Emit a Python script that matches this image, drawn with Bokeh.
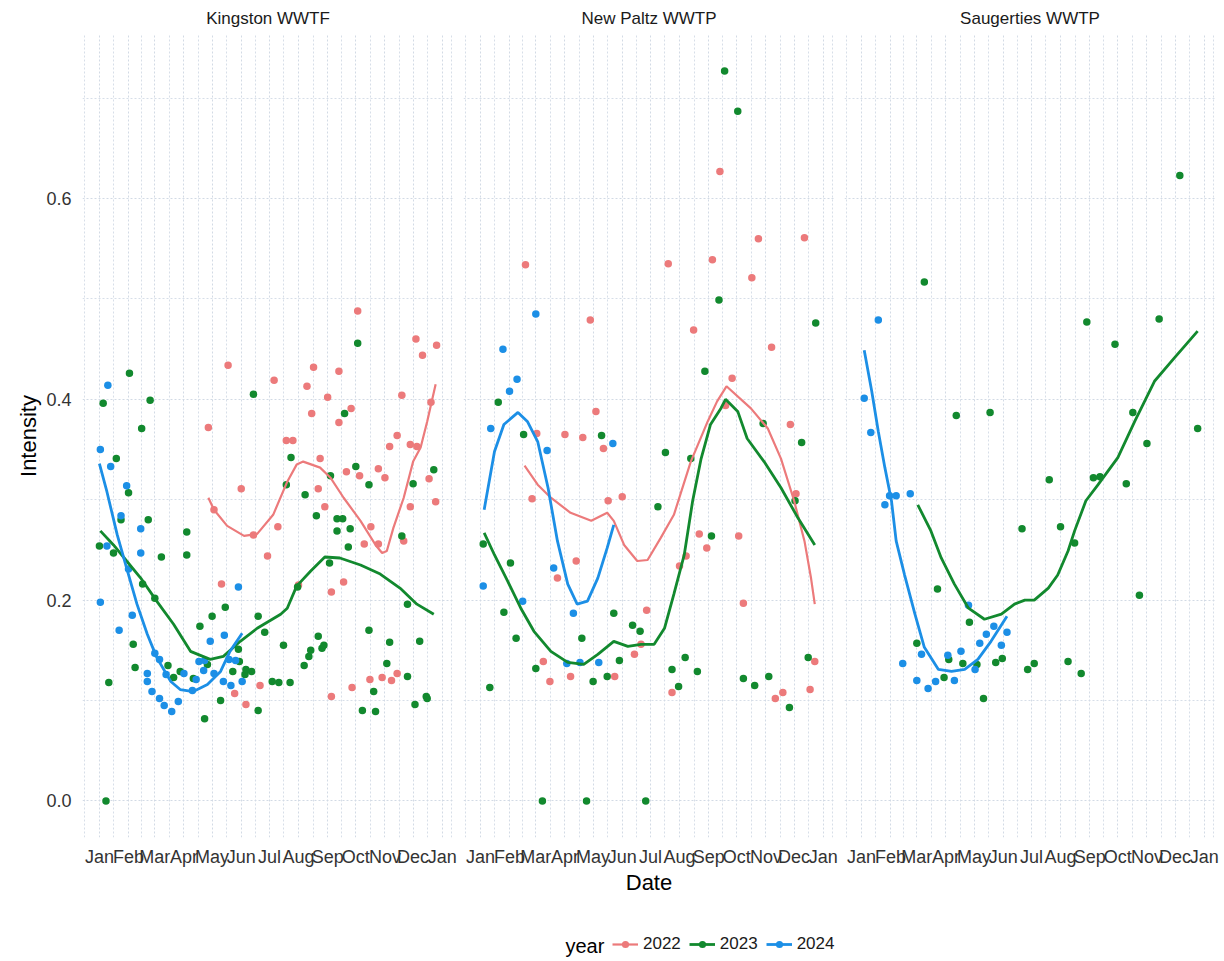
from bokeh.plotting import figure
from bokeh.models import Range1d, FixedTicker, PrintfTickFormatter, Legend, LegendItem, Label
from bokeh.layouts import row, column
from bokeh.embed import file_html
from bokeh.resources import INLINE

FONT = "Liberation Sans"

# ---------------- data (x = days since Jan 1, y = intensity) ----------------
month_starts = [0, 31, 59, 90, 120, 151, 181, 212, 243, 273, 304, 334, 365]
month_labels = ["Jan", "Feb", "Mar", "Apr", "May", "Jun", "Jul", "Aug", "Sep", "Oct", "Nov", "Dec", "Jan"]
y_ticks = [0.0, 0.2, 0.4, 0.6]
y_minor = [0.1, 0.3, 0.5, 0.7]
years = ["2022", "2023", "2024"]
facets = ["Kingston WWTF", "New Paltz WWTP", "Saugerties WWTP"]

# Kingston WWTF
k22_day = [116, 122, 130, 137, 144, 151, 156, 164, 171, 179, 186, 190, 199, 206, 212, 221, 226, 228, 233, 235, 240, 243, 247, 247, 255, 255, 260, 263, 268, 269, 275, 277, 282, 288, 289, 297, 297, 301, 304, 309, 311, 317, 317, 322, 324, 331, 331, 337, 338, 344, 351, 353, 358, 359]
k22_val = [0.372, 0.290, 0.216, 0.434, 0.107, 0.311, 0.096, 0.265, 0.115, 0.244, 0.419, 0.273, 0.359, 0.359, 0.215, 0.413, 0.386, 0.432, 0.311, 0.341, 0.293, 0.402, 0.208, 0.104, 0.428, 0.377, 0.218, 0.328, 0.391, 0.113, 0.488, 0.324, 0.256, 0.121, 0.273, 0.331, 0.256, 0.123, 0.322, 0.353, 0.120, 0.364, 0.127, 0.404, 0.259, 0.355, 0.293, 0.460, 0.353, 0.444, 0.321, 0.397, 0.298, 0.454]
k23_day = [0, 4, 7, 10, 15, 18, 23, 31, 32, 36, 38, 45, 46, 52, 54, 59, 66, 73, 79, 86, 93, 93, 100, 107, 112, 115, 120, 129, 134, 142, 148, 149, 155, 156, 162, 164, 169, 169, 176, 184, 191, 196, 199, 203, 204, 211, 218, 219, 223, 225, 231, 233, 237, 239, 245, 246, 253, 253, 259, 261, 265, 267, 273, 275, 280, 287, 287, 292, 294, 306, 309, 322, 328, 328, 334, 336, 341, 348, 349, 356]
k23_val = [0.254, 0.396, 0.0, 0.118, 0.247, 0.341, 0.280, 0.307, 0.426, 0.156, 0.133, 0.371, 0.216, 0.280, 0.399, 0.202, 0.243, 0.135, 0.123, 0.129, 0.268, 0.245, 0.122, 0.174, 0.082, 0.136, 0.184, 0.100, 0.193, 0.129, 0.151, 0.139, 0.126, 0.131, 0.129, 0.405, 0.184, 0.090, 0.168, 0.119, 0.118, 0.155, 0.315, 0.118, 0.342, 0.213, 0.135, 0.305, 0.144, 0.150, 0.284, 0.164, 0.152, 0.155, 0.237, 0.324, 0.281, 0.269, 0.281, 0.386, 0.253, 0.271, 0.333, 0.456, 0.090, 0.315, 0.170, 0.109, 0.089, 0.137, 0.158, 0.264, 0.196, 0.124, 0.316, 0.096, 0.159, 0.104, 0.102, 0.330]
k24_day = [1, 1, 8, 9, 12, 21, 23, 29, 31, 35, 44, 44, 51, 51, 56, 59, 64, 64, 69, 71, 77, 84, 90, 99, 103, 106, 111, 112, 118, 122, 132, 133, 138, 140, 145, 148, 152]
k24_val = [0.350, 0.198, 0.254, 0.414, 0.333, 0.170, 0.284, 0.314, 0.231, 0.185, 0.271, 0.247, 0.127, 0.119, 0.109, 0.147, 0.141, 0.102, 0.095, 0.126, 0.089, 0.099, 0.127, 0.110, 0.121, 0.139, 0.130, 0.140, 0.159, 0.127, 0.119, 0.165, 0.141, 0.115, 0.140, 0.213, 0.119]
k22_fit_day = [116, 122, 136, 154, 168, 185, 200, 210, 217, 235, 246, 260, 278, 294, 301, 306, 313, 324, 334, 342, 349, 358]
k22_fit_val = [0.302, 0.290, 0.274, 0.264, 0.266, 0.285, 0.318, 0.335, 0.338, 0.332, 0.322, 0.302, 0.279, 0.255, 0.247, 0.249, 0.272, 0.302, 0.338, 0.352, 0.378, 0.415]
k23_fit_day = [1, 15, 29, 44, 61, 79, 97, 118, 132, 150, 168, 193, 200, 210, 225, 240, 256, 278, 299, 320, 338, 356]
k23_fit_val = [0.269, 0.255, 0.239, 0.222, 0.199, 0.176, 0.149, 0.141, 0.144, 0.159, 0.172, 0.186, 0.192, 0.214, 0.229, 0.243, 0.242, 0.235, 0.226, 0.212, 0.196, 0.186]
k24_fit_day = [0, 8, 19, 29, 40, 51, 61, 76, 86, 100, 115, 129, 139, 152]
k24_fit_val = [0.336, 0.308, 0.265, 0.232, 0.196, 0.166, 0.143, 0.119, 0.111, 0.109, 0.116, 0.129, 0.149, 0.167]

# New Paltz WWTP
np22_day = [48, 55, 60, 67, 74, 82, 90, 96, 102, 109, 117, 123, 131, 136, 143, 151, 164, 171, 177, 200, 204, 212, 219, 227, 233, 241, 247, 255, 261, 268, 275, 280, 289, 296, 310, 314, 322, 330, 336, 345, 351, 356]
np22_val = [0.534, 0.301, 0.366, 0.139, 0.119, 0.222, 0.365, 0.124, 0.239, 0.362, 0.479, 0.388, 0.351, 0.299, 0.124, 0.303, 0.146, 0.156, 0.190, 0.535, 0.108, 0.234, 0.244, 0.469, 0.266, 0.252, 0.539, 0.627, 0.394, 0.421, 0.264, 0.197, 0.521, 0.560, 0.452, 0.102, 0.108, 0.375, 0.306, 0.561, 0.111, 0.139]
np23_day = [3, 10, 19, 25, 32, 38, 46, 59, 66, 108, 113, 120, 129, 135, 142, 148, 162, 170, 176, 189, 197, 204, 211, 218, 224, 231, 239, 246, 254, 260, 274, 280, 292, 301, 307, 329, 335, 342, 349, 357]
np23_val = [0.256, 0.113, 0.397, 0.188, 0.237, 0.162, 0.365, 0.132, 0.0, 0.162, 0.0, 0.119, 0.364, 0.124, 0.187, 0.140, 0.175, 0.169, 0.0, 0.293, 0.347, 0.131, 0.114, 0.143, 0.341, 0.129, 0.428, 0.264, 0.499, 0.727, 0.687, 0.122, 0.115, 0.376, 0.124, 0.093, 0.299, 0.357, 0.143, 0.476]
np24_day = [3, 11, 24, 31, 39, 45, 59, 71, 78, 92, 99, 106, 126, 141]
np24_val = [0.214, 0.371, 0.450, 0.408, 0.420, 0.199, 0.485, 0.349, 0.232, 0.137, 0.187, 0.138, 0.138, 0.356]
np22_fit_day = [47, 61, 75, 96, 118, 135, 142, 153, 167, 178, 192, 206, 224, 242, 252, 262, 288, 306, 320, 334, 345, 352, 356]
np22_fit_val = [0.334, 0.315, 0.302, 0.287, 0.279, 0.287, 0.279, 0.255, 0.239, 0.240, 0.262, 0.285, 0.338, 0.378, 0.398, 0.413, 0.391, 0.371, 0.341, 0.299, 0.259, 0.222, 0.196]
np23_fit_day = [4, 15, 29, 43, 57, 75, 93, 110, 125, 142, 157, 171, 185, 196, 206, 217, 226, 235, 245, 256, 261, 274, 284, 302, 320, 338, 356]
np23_fit_val = [0.267, 0.245, 0.219, 0.192, 0.169, 0.149, 0.138, 0.136, 0.146, 0.159, 0.154, 0.156, 0.156, 0.172, 0.206, 0.245, 0.299, 0.341, 0.375, 0.391, 0.400, 0.388, 0.361, 0.338, 0.312, 0.282, 0.255]
np24_fit_day = [4, 15, 25, 40, 50, 61, 72, 82, 93, 103, 114, 125, 135, 142]
np24_fit_val = [0.290, 0.348, 0.375, 0.387, 0.378, 0.358, 0.312, 0.259, 0.216, 0.196, 0.199, 0.222, 0.252, 0.275]

# Saugerties WWTP
s23_day = [59, 67, 81, 88, 93, 101, 108, 115, 123, 130, 137, 143, 150, 171, 177, 184, 200, 212, 220, 227, 234, 240, 247, 254, 270, 282, 289, 296, 304, 317, 339, 358]
s23_val = [0.157, 0.517, 0.211, 0.123, 0.141, 0.384, 0.137, 0.178, 0.136, 0.102, 0.387, 0.138, 0.142, 0.271, 0.131, 0.137, 0.320, 0.273, 0.139, 0.257, 0.127, 0.477, 0.322, 0.323, 0.455, 0.316, 0.387, 0.205, 0.356, 0.480, 0.623, 0.371]
s24_day = [3, 10, 18, 25, 30, 37, 44, 52, 59, 64, 71, 79, 92, 99, 106, 114, 121, 126, 133, 141, 149, 155]
s24_val = [0.401, 0.367, 0.479, 0.295, 0.304, 0.304, 0.137, 0.306, 0.120, 0.146, 0.112, 0.119, 0.145, 0.120, 0.149, 0.195, 0.131, 0.157, 0.166, 0.174, 0.155, 0.168]
s23_fit_day = [60, 74, 85, 99, 114, 131, 149, 163, 174, 184, 199, 209, 220, 227, 239, 252, 273, 291, 312, 333, 358]
s23_fit_val = [0.295, 0.269, 0.242, 0.216, 0.192, 0.181, 0.186, 0.196, 0.200, 0.200, 0.212, 0.225, 0.249, 0.269, 0.299, 0.315, 0.342, 0.378, 0.418, 0.441, 0.468]
s24_fit_day = [3, 11, 18, 25, 32, 37, 46, 57, 67, 82, 96, 110, 124, 138, 155]
s24_fit_val = [0.449, 0.408, 0.368, 0.332, 0.299, 0.259, 0.225, 0.186, 0.153, 0.131, 0.129, 0.131, 0.141, 0.159, 0.184]

panel_series = {
    "Kingston WWTF": [("2022", k22_day, k22_val, k22_fit_day, k22_fit_val),
                      ("2023", k23_day, k23_val, k23_fit_day, k23_fit_val),
                      ("2024", k24_day, k24_val, k24_fit_day, k24_fit_val)],
    "New Paltz WWTP": [("2022", np22_day, np22_val, np22_fit_day, np22_fit_val),
                       ("2023", np23_day, np23_val, np23_fit_day, np23_fit_val),
                       ("2024", np24_day, np24_val, np24_fit_day, np24_fit_val)],
    "Saugerties WWTP": [("2023", s23_day, s23_val, s23_fit_day, s23_fit_val),
                        ("2024", s24_day, s24_val, s24_fit_day, s24_fit_val)],
}

# ---------------- styling ----------------
colors = {"2022": "#EC7A7B", "2023": "#12892E", "2024": "#1C8FE6"}
line_w = {"2022": 2.2, "2023": 2.8, "2024": 2.8}
GRID = "#D2DAE5"
FRAME_W, FRAME_H = 371, 803
TOP, BOTTOM = 34, 62
TICK_PX = "18px"
TITLE_PX = "22px"

x_minor = [(a + b) / 2 for a, b in zip(month_starts[:-1], month_starts[1:])]
x_minor = [-15.5] + x_minor + [374.5]


def make_panel(i, name):
    left = 82 if i == 0 else 5
    p = figure(frame_width=FRAME_W, frame_height=FRAME_H,
               x_range=Range1d(-18, 377), y_range=Range1d(-0.0364, 0.7634),
               output_backend="svg", toolbar_location=None,
               y_axis_location="left" if i == 0 else None,
               min_border_left=left, min_border_right=5,
               min_border_top=TOP, min_border_bottom=BOTTOM)
    p.outline_line_color = None
    p.background_fill_color = "white"
    p.border_fill_color = "white"

    p.title.text = name
    p.title.align = "center"
    p.title.text_font = FONT
    p.title.text_font_size = "17px"
    p.title.text_font_style = "normal"
    p.title.text_color = "#1A1A1A"
    p.title.standoff = 13

    xt = FixedTicker(ticks=month_starts, minor_ticks=x_minor)
    yt = FixedTicker(ticks=y_ticks, minor_ticks=y_minor)
    p.xaxis.ticker = xt
    p.xgrid.ticker = xt
    p.ygrid.ticker = yt
    p.xaxis.major_label_overrides = {d: m for d, m in zip(month_starts, month_labels)}
    p.xaxis.major_label_text_font = FONT
    p.xaxis.major_label_text_font_size = TICK_PX
    p.xaxis.major_label_text_color = "#333333"
    p.xaxis.major_label_standoff = 3
    p.xaxis.axis_line_color = None
    p.xaxis.major_tick_line_color = None
    p.xaxis.minor_tick_line_color = None
    if i == 1:
        p.xaxis.axis_label = "Date"
        p.xaxis.axis_label_text_font = FONT
        p.xaxis.axis_label_text_font_size = TITLE_PX
        p.xaxis.axis_label_text_font_style = "normal"
        p.xaxis.axis_label_text_color = "black"
        p.xaxis.axis_label_standoff = 0
    if i == 0:
        p.yaxis.ticker = yt
        p.yaxis.formatter = PrintfTickFormatter(format="%.1f")
        p.yaxis.axis_label = "Intensity"
        p.yaxis.axis_label_text_font = FONT
        p.yaxis.axis_label_text_font_size = TITLE_PX
        p.yaxis.axis_label_text_font_style = "normal"
        p.yaxis.axis_label_text_color = "black"
        p.yaxis.axis_label_standoff = 2
        p.yaxis.major_label_text_font = FONT
        p.yaxis.major_label_text_font_size = TICK_PX
        p.yaxis.major_label_text_color = "#333333"
        p.yaxis.major_label_standoff = 5
        p.yaxis.axis_line_color = None
        p.yaxis.major_tick_line_color = None
        p.yaxis.minor_tick_line_color = None

    for g in (p.xgrid, p.ygrid):
        g.grid_line_color = GRID
        g.grid_line_width = 1
        g.grid_line_dash = "2 2"
        g.minor_grid_line_color = GRID
        g.minor_grid_line_width = 0.9
        g.minor_grid_line_dash = "2 2"

    series = panel_series[name]
    for yr, d, v, fd, fv in series:
        p.scatter(d, v, size=7.5, fill_color=colors[yr], line_color=None)
    for yr, d, v, fd, fv in series:
        p.line(fd, fv, line_color=colors[yr], line_width=line_w[yr])
    return p


panels = [make_panel(i, n) for i, n in enumerate(facets)]

# ---------------- legend strip ----------------
# proxy renderers reuse the Kingston series; this strip's ranges keep them out of view
proxy = {yr: (d, v, fd, fv) for yr, d, v, fd, fv in panel_series["Kingston WWTF"]}
leg = figure(width=82 + FRAME_W + 5 + 2 * (FRAME_W + 10), height=58,
             x_range=Range1d(-2, -1), y_range=Range1d(-2, -1),
             output_backend="svg", toolbar_location=None,
             x_axis_location=None, y_axis_location=None,
             min_border=0, min_border_left=0, min_border_right=0,
             min_border_top=0, min_border_bottom=0)
leg.outline_line_color = None
leg.xgrid.visible = False
leg.ygrid.visible = False
items = []
for yr in years:
    d, v, fd, fv = proxy[yr]
    r_ln = leg.line(fd, fv, line_color=colors[yr], line_width=line_w[yr])
    r_pt = leg.scatter(d, v, size=7.5, fill_color=colors[yr], line_color=None)
    items.append(LegendItem(label=yr, renderers=[r_ln, r_pt]))
legend = Legend(items=items, orientation="horizontal", location=(612, 3),
                padding=0, margin=0, spacing=8, glyph_width=26, glyph_height=18,
                label_height=18, label_standoff=5, label_text_font=FONT,
                label_text_font_size="17px", label_text_color="#1A1A1A",
                border_line_color=None, background_fill_alpha=0)
leg.add_layout(legend, "center")
leg.add_layout(Label(x=565, y=12, x_units="screen", y_units="screen", text="year",
                     text_baseline="middle", text_font=FONT, text_font_size="20px",
                     text_color="black"))

layout = column(row(*panels), leg)
open("out.html", "w").write(file_html(layout, INLINE))
